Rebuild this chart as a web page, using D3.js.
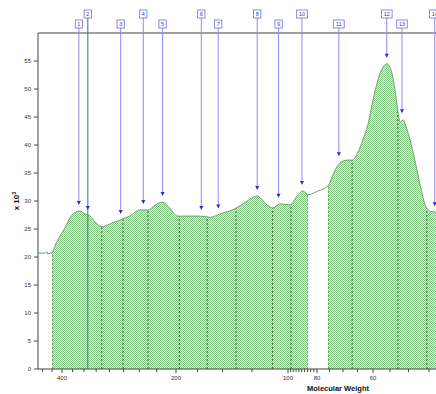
<!DOCTYPE html>
<html>
<head>
<meta charset="utf-8">
<script src="https://cdn.jsdelivr.net/npm/d3@7"></script>
<style>
  body { margin: 0; background: #fff; }
  svg text { font-family: Arial, "Liberation Sans", sans-serif; }
</style>
</head>
<body>
<script>
// densitometry profile: molecular weight (kDa) and intensity (x 10^3)
const profileMW = [463, 443, 438, 436, 430, 425, 417, 405, 393, 381, 370, 359, 348, 337, 327, 314, 299, 281, 265, 249,
  237, 227, 217, 208, 198, 183, 172, 162, 152, 139, 130, 121, 115, 110, 105, 98.5, 93.3, 89.1, 85.7, 79.6,
  75.6, 72.9, 71.1, 68.6, 66.8, 64.8, 63.2, 61.6, 60, 58.5, 57.0, 55.9, 54.7, 53.6, 52.8, 52.2, 51.4, 50.7,
  49.6, 48.4, 47.1, 45.9, 44.8, 43.4, 41.5];
const profileValue = [20.7, 20.7, 20.9, 20.5, 20.7, 20.7, 22.1, 23.75, 25.2, 27.0, 27.9, 28.2, 27.7, 27.3, 26.25, 25.4, 25.9, 26.6, 27.3, 28.4,
  28.4, 29.3, 29.8, 28.75, 27.3, 27.3, 27.3, 27.1, 27.7, 28.6, 29.8, 30.9, 29.6, 28.75, 29.5, 29.3, 30.9, 31.8, 31.1, 31.8,
  32.7, 35.5, 36.8, 37.3, 37.3, 38.75, 40.9, 43.6, 48.0, 51.6, 53.9, 54.5, 53.4, 49.8, 46.0, 44.0, 44.5, 43.4,
  40.9, 37.3, 32.9, 29.3, 28.2, 28.0, 28.0];

// lane boundaries (MW) and the filled stretches
const laneEdges = [425, 314, 276, 237, 196, 165, 138, 110, 97.7, 85.7, 75.6, 66.8, 52.8, 45.5];
const fillRanges = [[425, 85.7], [75.6, 41.5]];

// numbered band markers
const markerLabels = ['1', '2', '3', '4', '5', '6', '7', '8', '9', '10', '11', '12', '13', '14'];
const markerMW = [361, 342, 280, 244, 217, 171, 154, 121, 106, 89.8, 71.5, 55.9, 51.7, 43.7];
const markerHeight = [28.2, 27.3, 26.6, 28.4, 29.8, 27.3, 27.6, 30.9, 29.5, 31.8, 36.9, 54.5, 44.6, 28.0];
const markerRow = [2, 1, 2, 1, 2, 1, 2, 1, 2, 1, 2, 1, 2, 1];
const selectedMarker = '2';

const xTickLabels = [400, 200, 100, 80, 60];
const xMinorTicks = [450, 425, 375, 350, 325, 300, 275, 250, 225, 175, 150, 125,
  98, 96, 94, 92, 90, 88, 86, 84, 82, 75, 70, 65, 55, 50, 45];
const yTicks = [0, 5, 10, 15, 20, 25, 30, 35, 40, 45, 50, 55];

const W = 436, H = 394;
const plotLeft = 38, plotTop = 33, plotBottom = 369;

const profile = profileMW.map((m, i) => ({ mw: m, v: profileValue[i] }));

const x = d3.scaleLog()
  .domain(xTickLabels)
  .range([62, 176, 288, 317, 373]);
const y = d3.scaleLinear().domain([0, 60]).range([plotBottom, plotTop]);

const svg = d3.select('body').append('svg')
  .attr('width', W).attr('height', H);

const defs = svg.append('defs');
const pat = defs.append('pattern')
  .attr('id', 'hatch')
  .attr('width', 2).attr('height', 2)
  .attr('patternUnits', 'userSpaceOnUse');
pat.append('rect').attr('width', 2).attr('height', 2).attr('fill', '#e2f3e2');
pat.append('rect').attr('width', 1).attr('height', 1).attr('fill', '#82c782');
pat.append('rect').attr('x', 1).attr('y', 1).attr('width', 1).attr('height', 1).attr('fill', '#82c782');

const area = d3.area()
  .x((d) => x(d.mw))
  .y0(y(0))
  .y1((d) => y(d.v))
  .curve(d3.curveMonotoneX);

const line = d3.line()
  .x((d) => x(d.mw))
  .y((d) => y(d.v))
  .curve(d3.curveMonotoneX);

const segments = fillRanges.map(([a, b]) => profile.filter((d) => d.mw <= a && d.mw >= b));

const clip = defs.append('clipPath').attr('id', 'fillclip');
segments.forEach((s) => clip.append('path').attr('d', area(s)));

svg.selectAll('.fill')
  .data(segments)
  .join('path')
  .attr('class', 'fill')
  .attr('d', area)
  .attr('fill', 'url(#hatch)');

// lane dividers, dashed, inside the filled area only
svg.append('g')
  .attr('clip-path', 'url(#fillclip)')
  .selectAll('line')
  .data(laneEdges)
  .join('line')
  .attr('x1', (d) => x(d)).attr('x2', (d) => x(d))
  .attr('y1', y(0)).attr('y2', y(60))
  .attr('stroke', '#3d5f3d')
  .attr('stroke-width', 1)
  .attr('stroke-dasharray', '2,2');

svg.append('path')
  .attr('d', line(profile))
  .attr('fill', 'none')
  .attr('stroke', '#6aa66a')
  .attr('stroke-width', 1);

// axes
svg.append('line')
  .attr('x1', plotLeft).attr('x2', W).attr('y1', plotTop).attr('y2', plotTop)
  .attr('stroke', '#444');
svg.append('line')
  .attr('x1', plotLeft).attr('x2', plotLeft).attr('y1', plotTop).attr('y2', plotBottom)
  .attr('stroke', '#444');
svg.append('line')
  .attr('x1', plotLeft).attr('x2', W).attr('y1', plotBottom).attr('y2', plotBottom)
  .attr('stroke', '#444');

const yg = svg.append('g');
yg.selectAll('line')
  .data(yTicks)
  .join('line')
  .attr('x1', plotLeft - 4).attr('x2', plotLeft)
  .attr('y1', (d) => y(d)).attr('y2', (d) => y(d))
  .attr('stroke', '#444');
yg.selectAll('text')
  .data(yTicks)
  .join('text')
  .attr('x', plotLeft - 7)
  .attr('y', (d) => y(d) + 2)
  .attr('text-anchor', 'end')
  .attr('font-size', 6)
  .attr('fill', '#333')
  .text((d) => d);

const xg = svg.append('g');
xg.selectAll('.minor')
  .data(xMinorTicks)
  .join('line')
  .attr('class', 'minor')
  .attr('x1', (d) => x(d)).attr('x2', (d) => x(d))
  .attr('y1', plotBottom).attr('y2', plotBottom + 3)
  .attr('stroke', '#444');
xg.selectAll('.major')
  .data(xTickLabels)
  .join('line')
  .attr('class', 'major')
  .attr('x1', (d) => x(d)).attr('x2', (d) => x(d))
  .attr('y1', plotBottom).attr('y2', plotBottom + 4)
  .attr('stroke', '#444');
xg.selectAll('text')
  .data(xTickLabels)
  .join('text')
  .attr('x', (d) => x(d))
  .attr('y', plotBottom + 11)
  .attr('text-anchor', 'middle')
  .attr('font-size', 6)
  .attr('fill', '#333')
  .text((d) => d);

svg.append('text')
  .attr('x', 338).attr('y', 391)
  .attr('text-anchor', 'middle')
  .attr('font-size', 7.5)
  .attr('font-weight', 'bold')
  .attr('fill', '#111')
  .text('Molecular Weight');

const ylab = svg.append('text')
  .attr('transform', 'translate(19, 201) rotate(-90)')
  .attr('text-anchor', 'middle')
  .attr('font-size', 8)
  .attr('font-weight', 'bold')
  .attr('fill', '#111');
ylab.append('tspan').text('x 10');
ylab.append('tspan').attr('dy', -3).attr('font-size', 5.5).text('3');

// markers
const markers = markerLabels.map((l, i) => ({
  label: l, mw: markerMW[i], h: markerHeight[i], row: markerRow[i]
}));

const mg = svg.selectAll('.marker')
  .data(markers)
  .join('g')
  .attr('class', 'marker')
  .attr('transform', (d) => `translate(${x(d.mw)},0)`);

mg.each(function (d) {
  const g = d3.select(this);
  const boxTop = d.row === 1 ? 10 : 20;
  const bw = 4 + 3.3 * d.label.length;
  const tip = y(d.h) - 6;
  const sel = d.label === selectedMarker;
  g.append('line')
    .attr('x1', 0).attr('x2', 0)
    .attr('y1', boxTop + 8).attr('y2', sel ? plotBottom : tip - 3)
    .attr('stroke', sel ? '#3f8070' : '#8c8cf0')
    .attr('stroke-opacity', sel ? 0.8 : 1)
    .attr('stroke-width', sel ? 1.3 : 1);
  g.append('path')
    .attr('d', `M-2,${tip - 4}L2,${tip - 4}L0,${tip}Z`)
    .attr('fill', '#2a2ad8');
  g.append('rect')
    .attr('x', -bw / 2).attr('y', boxTop)
    .attr('width', bw).attr('height', 8)
    .attr('fill', '#fff')
    .attr('stroke', '#6a6ae6')
    .attr('stroke-width', 0.8);
  g.append('text')
    .attr('y', boxTop + 6)
    .attr('text-anchor', 'middle')
    .attr('font-size', 5.5)
    .attr('fill', '#3a3a8a')
    .text(d.label);
});
</script>
</body>
</html>
